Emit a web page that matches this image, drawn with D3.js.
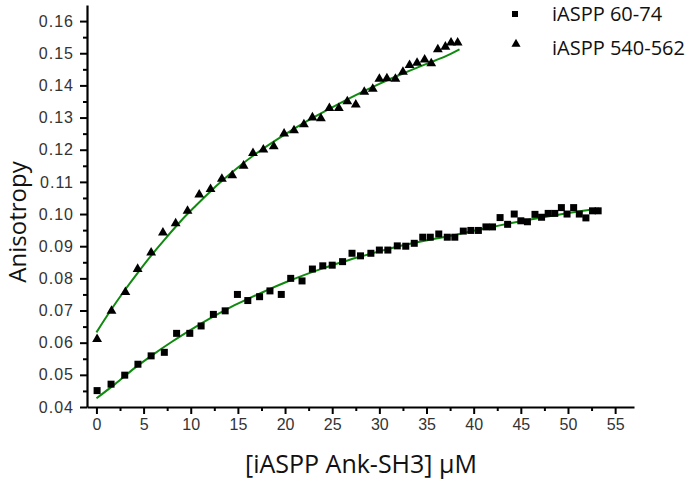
<!DOCTYPE html>
<html>
<head>
<meta charset="utf-8">
<script src="https://cdn.jsdelivr.net/npm/d3@7"></script>
<style>
  body { margin: 0; background: #fff; }
  .title { font-family: "Open Sans", "Noto Sans", sans-serif; fill: #111; }
</style>
</head>
<body>
<script>
const width = 700;
const height = 485;

// iASPP 60-74 (squares)
const sqX = [0.07, 1.55, 3.0, 4.4, 5.8, 7.2, 8.5, 9.9, 11.1, 12.4, 13.65, 14.95, 16.05, 17.3, 18.4, 19.6,
    20.6, 21.8, 22.9, 24.0, 25.0, 26.1, 27.1, 28.0, 29.1, 30.0, 30.9, 31.9, 32.8, 33.7, 34.6, 35.4,
    36.3, 37.2, 38.0, 38.9, 39.7, 40.5, 41.3, 42.0, 42.8, 43.6, 44.3, 45.0, 45.7, 46.5, 47.2, 47.9,
    48.6, 49.3, 49.9, 50.6, 51.2, 51.9, 52.6, 53.2];
const sqY = [0.0451, 0.0471, 0.0499, 0.0533, 0.0559, 0.0570, 0.0629, 0.0629, 0.0652, 0.0688, 0.0699, 0.0750, 0.0731, 0.0743, 0.0761, 0.0750,
    0.0800, 0.0792, 0.0829, 0.0839, 0.0841, 0.0852, 0.0878, 0.0870, 0.0878, 0.0888, 0.0888, 0.0901, 0.0900, 0.0909, 0.0928, 0.0928,
    0.0938, 0.0928, 0.0928, 0.0947, 0.0949, 0.0949, 0.0960, 0.0960, 0.0989, 0.0968, 0.1000, 0.0979, 0.0976, 0.0999, 0.0990, 0.1002,
    0.1002, 0.1020, 0.1000, 0.1020, 0.1000, 0.0988, 0.1010, 0.1010];

// iASPP 540-562 (triangles)
const trX = [0.07, 1.6, 3.07, 4.37, 5.8, 7.05, 8.4, 9.66, 10.9, 12.1, 13.3, 14.4, 15.6, 16.6, 17.7, 18.8,
    19.9, 20.95, 22.0, 22.9, 23.8, 24.7, 25.7, 26.6, 27.5, 28.4, 29.3, 30.0, 30.8, 31.7, 32.5, 33.2,
    34.0, 34.8, 35.5, 36.2, 37.0, 37.6, 38.3];
const trY = [0.0611, 0.0699, 0.0757, 0.0829, 0.0880, 0.0942, 0.0971, 0.1010, 0.1060, 0.1077, 0.1109, 0.1120, 0.1150, 0.1189, 0.1200, 0.1210,
    0.1250, 0.1260, 0.1279, 0.1300, 0.1297, 0.1329, 0.1329, 0.1350, 0.1340, 0.1380, 0.1389, 0.1420, 0.1422, 0.1420, 0.1442, 0.1463,
    0.1470, 0.1480, 0.1468, 0.1512, 0.1520, 0.1533, 0.1533];

// fitted curves
const fitSqX = [0, 2, 4, 6, 8, 10, 12, 14, 16, 18, 20, 22, 24, 26, 28, 30, 32, 34, 36, 38, 40, 42, 44, 46, 48, 50, 52, 53.3];
const fitSqY = [0.0427, 0.0472, 0.0520, 0.0563, 0.0603, 0.0640, 0.0675, 0.0707, 0.0735, 0.0762, 0.0787, 0.0810, 0.0831, 0.0850,
    0.0868, 0.0884, 0.0899, 0.0912, 0.0924, 0.0935, 0.0948, 0.0960, 0.0972, 0.0983, 0.0993, 0.1003, 0.1012, 0.1017];
const fitTrX = [0, 1.5, 3, 4.5, 6, 7.5, 9, 10.5, 12, 13.5, 15, 17.5, 20, 22.5, 25, 27.5, 30, 32.5, 35, 37, 38.5];
const fitTrY = [0.0632, 0.0700, 0.0763, 0.0822, 0.0878, 0.0930, 0.0980, 0.1025, 0.1068, 0.1108, 0.1145, 0.1200, 0.1248,
    0.1292, 0.1332, 0.1370, 0.1405, 0.1437, 0.1467, 0.1490, 0.1512];

const xTicks = d3.range(0, 56, 5);
const yTicks = [0.04, 0.05, 0.06, 0.07, 0.08, 0.09, 0.10, 0.11, 0.12, 0.13, 0.14, 0.15, 0.16];
const legendLabels = ["iASPP 60-74", "iASPP 540-562"];

const svg = d3.select("body").append("svg")
    .attr("width", width)
    .attr("height", height);

const x = d3.scaleLinear().domain([-1, 57]).range([87, 634]);
const y = d3.scaleLinear().domain([0.04, 0.165]).range([407, 5]);

// minor ticks first
svg.append("g")
    .attr("transform", "translate(0," + y(0.04) + ")")
    .call(d3.axisBottom(x).tickValues(d3.range(2.5, 56, 5)).tickSize(4).tickFormat(""))
    .call(g => g.select(".domain").remove())
    .selectAll("line").attr("stroke", "#000").attr("stroke-width", 2);
svg.append("g")
    .attr("transform", "translate(" + x(-1) + ",0)")
    .call(d3.axisLeft(y).tickValues(d3.range(0.045, 0.165, 0.01)).tickSize(4).tickFormat(""))
    .call(g => g.select(".domain").remove())
    .selectAll("line").attr("stroke", "#000").attr("stroke-width", 2);

const xAxis = svg.append("g")
    .attr("transform", "translate(0," + y(0.04) + ")")
    .call(d3.axisBottom(x).tickValues(xTicks).tickSize(7).tickSizeOuter(0).tickPadding(5));
const yAxis = svg.append("g")
    .attr("transform", "translate(" + x(-1) + ",0)")
    .call(d3.axisLeft(y).tickValues(yTicks).tickSize(7).tickSizeOuter(0).tickPadding(6).tickFormat(d3.format(".2f")));

[xAxis, yAxis].forEach(a => {
    a.select(".domain").attr("stroke", "#000").attr("stroke-width", 2.2);
    a.selectAll(".tick line").attr("stroke", "#000").attr("stroke-width", 2);
    a.selectAll(".tick text")
        .style("font-family", "'Liberation Sans', Arial, sans-serif")
        .style("font-size", "16px")
        .style("fill", "#333");
});
yAxis.selectAll(".tick text").style("letter-spacing", "1px");

// fitted lines
const line = d3.line().x(d => x(d[0])).y(d => y(d[1])).curve(d3.curveMonotoneX);
svg.append("path")
    .datum(d3.zip(fitSqX, fitSqY))
    .attr("d", line).attr("fill", "none").attr("stroke", "#0f8a0f").attr("stroke-width", 2);
svg.append("path")
    .datum(d3.zip(fitTrX, fitTrY))
    .attr("d", line).attr("fill", "none").attr("stroke", "#0f8a0f").attr("stroke-width", 2);

// markers
const sq = d3.symbol().type(d3.symbolSquare).size(49);
const tri = d3.symbol().type(d3.symbolTriangle).size(42);

svg.append("g").selectAll("path")
    .data(d3.zip(sqX, sqY))
    .join("path")
    .attr("d", sq)
    .attr("transform", d => "translate(" + x(d[0]) + "," + y(d[1]) + ")")
    .attr("fill", "#000");

svg.append("g").selectAll("path")
    .data(d3.zip(trX, trY))
    .join("path")
    .attr("d", tri)
    .attr("transform", d => "translate(" + x(d[0]) + "," + y(d[1]) + ")")
    .attr("fill", "#000");

// legend
const legend = svg.append("g");
legend.append("path").attr("d", d3.symbol().type(d3.symbolSquare).size(36))
    .attr("transform", "translate(515,14)").attr("fill", "#000");
legend.append("path").attr("d", d3.symbol().type(d3.symbolTriangle).size(36))
    .attr("transform", "translate(516,44)").attr("fill", "#000");
legend.selectAll("text")
    .data(legendLabels)
    .join("text")
    .attr("class", "title")
    .attr("x", 552)
    .attr("y", (d, i) => 21 + i * 34)
    .style("font-size", "20px")
    .text(d => d);

// axis titles
svg.append("text")
    .attr("class", "title")
    .attr("x", 361)
    .attr("y", 473)
    .attr("text-anchor", "middle")
    .style("font-size", "25px")
    .text("[iASPP Ank-SH3] μM");

svg.append("text")
    .attr("class", "title")
    .attr("transform", "translate(26,222) rotate(-90)")
    .attr("text-anchor", "middle")
    .style("font-size", "24px")
    .text("Anisotropy");
</script>
</body>
</html>
